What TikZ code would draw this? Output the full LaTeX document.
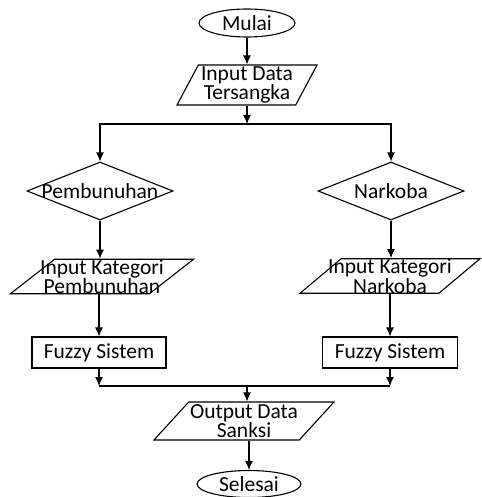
\documentclass[tikz,border=0pt]{standalone}
\usepackage{fontspec}
\setmainfont{Carlito}
\usetikzlibrary{shapes.geometric,arrows.meta}

\begin{document}
\begin{tikzpicture}[x=1pt, y=1pt, >={Latex[length=9pt,width=8pt]}, line width=1.1pt,
    font=\fontsize{21.5}{15.5}\selectfont,
    terminal/.style={draw, ellipse, inner sep=0pt, minimum height=28pt},
    dataio/.style={draw, trapezium, trapezium left angle=#1, trapezium right angle={180-#1},
        trapezium stretches body, inner ysep=0pt, align=center},
    choice/.style={draw, diamond, aspect=2.5, inner xsep=-6pt, inner ysep=0pt,
        minimum width=146pt, minimum height=58pt},
    process/.style={draw, rectangle, inner sep=0pt, minimum height=31pt}]
    \useasboundingbox (0,0) rectangle (481,-497);

    % Start and input
    \node[terminal, minimum width=96pt] (mulai) at (247,-23) {Mulai};
    \node[dataio=60, inner xsep=0pt, minimum width=140pt, minimum height=40pt] (tersangka) at (247,-85) {Input Data\\Tersangka};
    \coordinate (cabang) at (247,-124);

    % Decisions
    \node[choice] (pemb) at (100,-191) {Pembunuhan};
    \node[choice] (nark) at (391,-191) {Narkoba};

    % Category inputs
    \node[dataio=38, inner xsep=-14.5pt, minimum width=180pt, minimum height=33pt] (inpemb) at (102,-276.5) {Input Kategori\\Pembunuhan};
    \node[dataio=40, inner xsep=-13pt, minimum width=175pt, minimum height=32pt] (innark) at (390,-276) {Input Kategori\\Narkoba};

    % Fuzzy processes
    \node[process, minimum width=134pt] (fuzzy1) at (99,-352.5) {Fuzzy Sistem};
    \node[process, minimum width=135pt] (fuzzy2) at (390,-352.5) {Fuzzy Sistem};
    \coordinate (gabung) at (247,-386);

    % Output and end
    \node[dataio=44, inner xsep=-3.5pt, minimum width=180pt, minimum height=38pt] (output) at (244,-421) {Output Data\\Sanksi};
    \node[terminal, minimum width=104pt, minimum height=27pt] (selesai) at (249,-484) {Selesai};

    % Connectors
    \draw[->] (mulai) -- (tersangka);
    \draw[->] (tersangka) -- (cabang);
    \draw[->] (cabang) -| (pemb);
    \draw[->] (cabang) -| (nark);
    \draw[->] (pemb) -- (pemb.south |- inpemb.north);
    \draw[->] (nark) -- (nark.south |- innark.north);
    \draw[->] (fuzzy1 |- inpemb.south) -- (fuzzy1);
    \draw[->] (fuzzy2 |- innark.south) -- (fuzzy2);
    \draw[->] (fuzzy1) -- (fuzzy1 |- gabung);
    \draw[->] (fuzzy2) -- (fuzzy2 |- gabung);
    \draw (fuzzy1 |- gabung) -- (fuzzy2 |- gabung);
    \draw[->] (gabung) -- (gabung |- output.north);
    \draw[->] (output.south -| selesai) -- (selesai);
\end{tikzpicture}
\end{document}
